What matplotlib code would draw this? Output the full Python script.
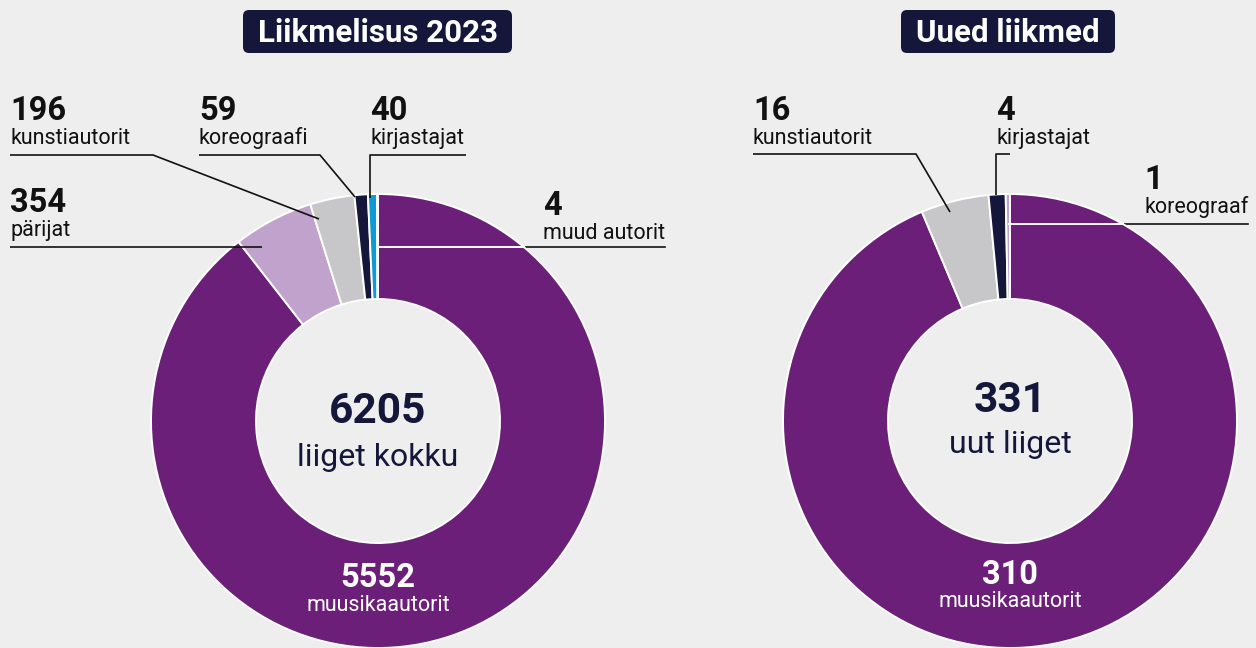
import numpy as np
import matplotlib
matplotlib.use("Agg")
import matplotlib.pyplot as plt
from matplotlib.patches import FancyBboxPatch

plt.rcParams['font.family'] = ['Roboto', 'DejaVu Sans']

# ---------------- data ----------------
left_title = "Liikmelisus 2023"
left_labels = ["muusikaautorit", "pärijat", "kunstiautorit", "koreograafi", "kirjastajat", "muud autorit"]
left_values = [5552, 354, 196, 59, 40, 4]
left_center_text = "liiget kokku"

right_title = "Uued liikmed"
right_labels = ["muusikaautorit", "kunstiautorit", "kirjastajat", "koreograaf"]
right_values = [310, 16, 4, 1]
right_center_text = "uut liiget"

# ---------------- styles ----------------
BG = "#eeeeee"
NAVY = "#14163a"
PURPLE = "#6c1f79"
LPURPLE = "#c0a2cc"
GRAY = "#c7c7c9"
BLUE = "#0f9ad6"
DGRAY = "#8b9199"
left_colors = [PURPLE, LPURPLE, GRAY, NAVY, BLUE, DGRAY]
right_colors = [PURPLE, GRAY, NAVY, LPURPLE]

NUM_FS = 23.5
LBL_FS = 15.5

W, H = 1256, 648
fig = plt.figure(figsize=(W / 100, H / 100), dpi=100, facecolor=BG)
ax = fig.add_axes([0, 0, 1, 1])
ax.set_facecolor(BG)


def Y(py):
    return H - py


R = 227
HOLE = 122
charts = [
    dict(cx=378, cy=421, values=left_values, labels=left_labels, colors=left_colors,
         title=left_title, box=(243, 10, 512, 53), center=left_center_text,
         tot_base=423, ctext_base=466, main_base=587, main_sub=611),
    dict(cx=1010, cy=421, values=right_values, labels=right_labels, colors=right_colors,
         title=right_title, box=(901, 10, 1115, 53), center=right_center_text,
         tot_base=412, ctext_base=453, main_base=584, main_sub=607),
]

for c in charts:
    ax.pie(c["values"], colors=c["colors"], startangle=90, counterclock=False,
           center=(c["cx"], Y(c["cy"])), radius=R,
           wedgeprops=dict(width=R - HOLE, edgecolor="white", linewidth=1.4, zorder=2))
    # title box
    x0, y0, x1, y1 = c["box"]
    ax.add_patch(FancyBboxPatch((x0 + 6, Y(y1) + 6), (x1 - x0) - 12, (y1 - y0) - 12,
                                boxstyle="round,pad=6", facecolor=NAVY, edgecolor="none", zorder=5))
    ax.text((x0 + x1) / 2, Y((y0 + y1) / 2 + 1), c["title"], ha="center", va="center",
            color="white", fontsize=22.5, fontweight="bold", zorder=6)
    # center text
    ax.text(c["cx"], Y(c["tot_base"]), f"{sum(c['values'])}", ha="center", va="baseline",
            color=NAVY, fontsize=30.5, fontweight="bold", zorder=6)
    ax.text(c["cx"], Y(c["ctext_base"]), c["center"], ha="center", va="baseline",
            color=NAVY, fontsize=23, zorder=6)
    # main slice label
    ax.text(c["cx"], Y(c["main_base"]), f"{c['values'][0]}", ha="center", va="baseline",
            color="white", fontsize=NUM_FS, fontweight="bold", zorder=6)
    ax.text(c["cx"], Y(c["main_sub"]), c["labels"][0], ha="center", va="baseline",
            color="white", fontsize=LBL_FS, zorder=6)

# annotation layout (pixel positions): index, text x, number baseline, label baseline, leader points
left_ann = [
    (1, 10, 212, 236, [(10, 247), (262, 247)], None),
    (2, 10, 120, 144, [(10, 155), (153, 155), (319, 219)], None),
    (3, 199, 120, 144, [(199, 155), (320, 155), (355, 197)], None),
    (4, 370, 120, 144, [(466, 155), (370, 155), (370, 198)], None),
    (5, 543, 215, 239, [(378, 247), (665, 247)], (charts[0]["cx"], charts[0]["cy"])),
]
right_ann = [
    (1, 753, 120, 144, [(753, 154), (916, 154), (950, 212)], None),
    (2, 996, 120, 144, [(1010, 154), (996, 154), (996, 195)], None),
    (3, 1144, 189, 213, [(1009, 224), (1248, 224)], (charts[1]["cx"], charts[1]["cy"])),
]

for c, anns in ((charts[0], left_ann), (charts[1], right_ann)):
    for idx, tx, nb, lb, pts, white_from in anns:
        ax.text(tx, Y(nb), f"{c['values'][idx]}", ha="left", va="baseline",
                color="#111111", fontsize=NUM_FS, fontweight="bold", zorder=6)
        ax.text(tx, Y(lb), c["labels"][idx], ha="left", va="baseline",
                color="#111111", fontsize=LBL_FS, zorder=6)
        xs = [p[0] for p in pts]
        ys = [Y(p[1]) for p in pts]
        if white_from is None:
            ax.plot(xs, ys, color="#111111", lw=1.2, zorder=4, solid_capstyle="butt")
        else:
            cx, cy = white_from
            yy = pts[0][1]
            xe = cx + np.sqrt(R ** 2 - (cy - yy) ** 2)
            ax.plot(xs, ys, color="#111111", lw=1.2, zorder=1)
            ax.plot([pts[0][0], xe], [Y(yy), Y(yy)], color="white", lw=1.4, zorder=4)

ax.set_xlim(0, W)
ax.set_ylim(0, H)
ax.set_aspect("equal")
ax.axis("off")
fig.savefig("out.png", dpi=100, facecolor=BG)
